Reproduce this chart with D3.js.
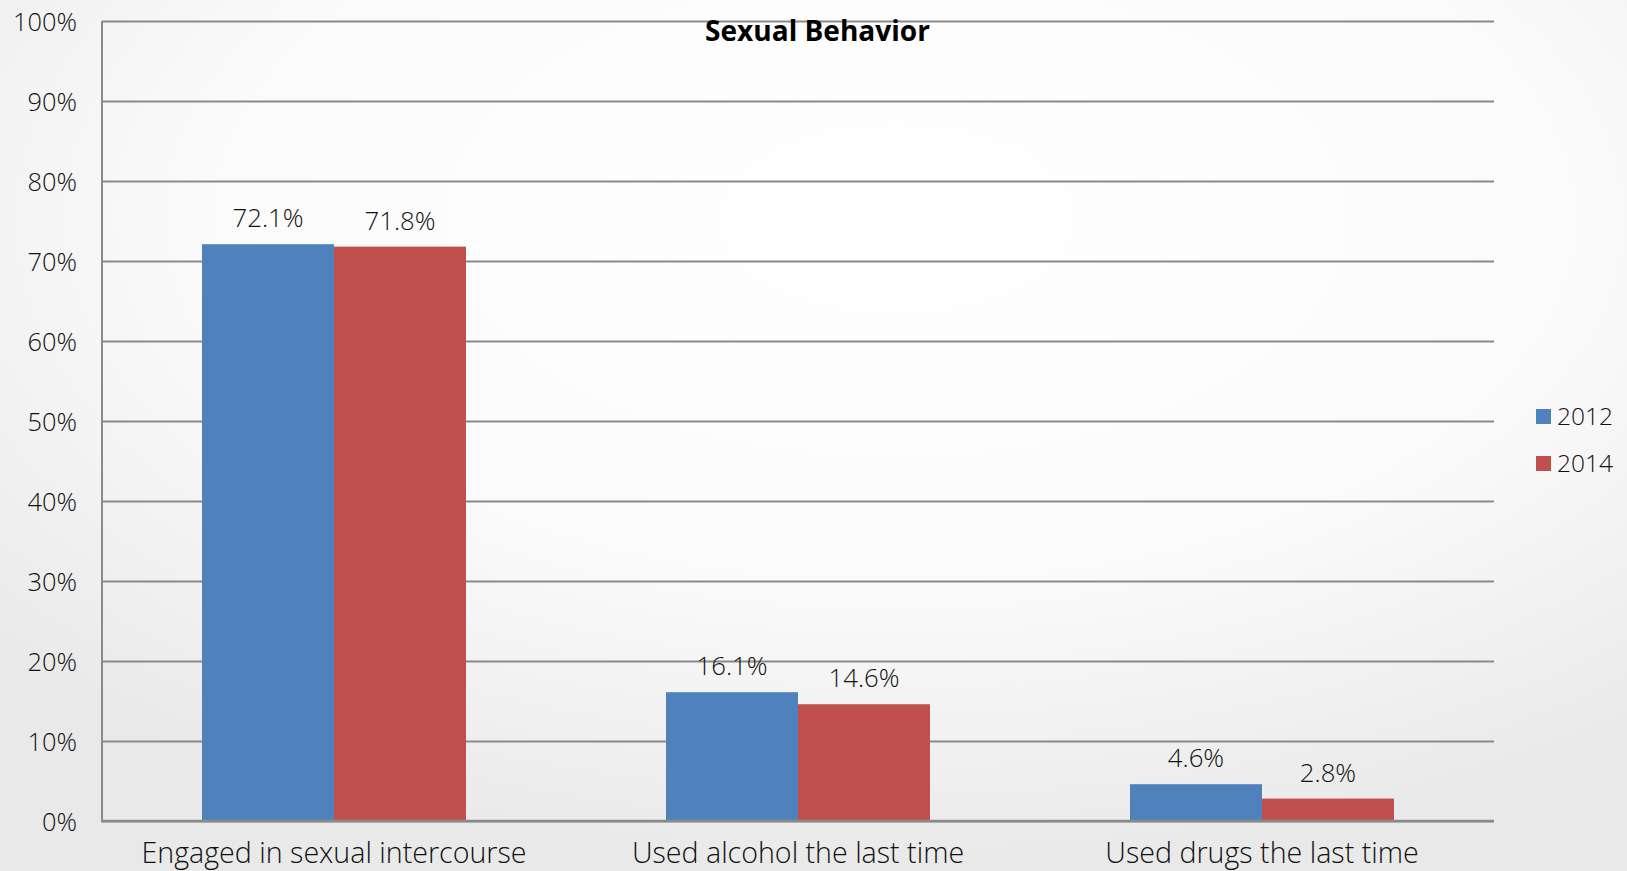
<!DOCTYPE html>
<html>
<head>
<meta charset="utf-8">
<script src="https://cdn.jsdelivr.net/npm/d3@7"></script>
<style>
html,body{margin:0;padding:0;overflow:hidden;}
svg{display:block;}
</style>
</head>
<body>
<svg id="chart" width="1627" height="871"></svg>
<script>
// ---- data ----
const title = "Sexual Behavior";
const categories = ["Engaged in sexual intercourse", "Used alcohol the last time", "Used drugs the last time"];
const seriesNames = ["2012", "2014"];
const values2012 = [72.1, 16.1, 4.6];
const values2014 = [71.8, 14.6, 2.8];
const yTicks = [0, 10, 20, 30, 40, 50, 60, 70, 80, 90, 100];
const colors = ["#4F81BD", "#C0504D"];

const W = 1627, H = 871;
const FONT = "'Open Sans', 'DejaVu Sans', sans-serif";
const TW = 300; // light text weight
const svg = d3.select("#chart");

// background radial gradient
const defs = svg.append("defs");
const rg = defs.append("radialGradient").attr("id", "bg")
  .attr("cx", "0.55").attr("cy", "0.25").attr("r", "0.75");
rg.append("stop").attr("offset", "0").attr("stop-color", "#ffffff");
rg.append("stop").attr("offset", "0.55").attr("stop-color", "#fbfbfb");
rg.append("stop").attr("offset", "1").attr("stop-color", "#e9e9e9");
svg.append("rect").attr("width", W).attr("height", H).attr("fill", "url(#bg)");

// font fitting helper
function fitSize(text, weight, target) {
  const t = svg.append("text").attr("font-family", FONT).attr("font-weight", weight)
    .attr("font-size", 100).text(text);
  const w = t.node().getComputedTextLength();
  t.remove();
  return 100 * target / w;
}
const tickSize = fitSize("100%", TW, 64);
const valSize = fitSize("72.1%", TW, 71);
const catSize = fitSize(categories[0], TW, 385);
const titleSize = fitSize(title, 700, 225);
const legSize = fitSize("2012", TW, 56);

const plot = {left: 102, right: 1494, top: 21, bottom: 821};

const x0 = d3.scaleBand().domain(categories).range([plot.left, plot.right]).paddingInner(0).paddingOuter(0);
const gapFrac = 200 / 464;
const x1 = d3.scaleBand().domain(seriesNames)
  .range([x0.bandwidth() * gapFrac / 2, x0.bandwidth() * (1 - gapFrac / 2)]);
const y = d3.scaleLinear().domain([0, 100]).range([plot.bottom, plot.top]);

// gridlines
const yAxis = d3.axisLeft(y).tickValues(yTicks).tickSize(-(plot.right - plot.left)).tickFormat(d => d + "%");
const gy = svg.append("g").attr("transform", `translate(${plot.left},0)`).call(yAxis);
gy.select(".domain").remove();
gy.selectAll(".tick line").attr("stroke", "#8a8a8a").attr("stroke-width", 2);
gy.selectAll(".tick text")
  .attr("x", -25).attr("dy", null).attr("y", 9.5)
  .attr("font-family", FONT).attr("font-weight", TW).attr("font-size", tickSize).attr("fill", "#111")
  .attr("text-anchor", "end");

// bars
const series = [values2012, values2014];
const groups = svg.append("g").selectAll("g").data(categories).join("g")
  .attr("transform", d => `translate(${x0(d)},0)`);
groups.selectAll("rect").data((d, i) => seriesNames.map((s, j) => ({s, v: series[j][i], j})))
  .join("rect")
  .attr("x", d => x1(d.s))
  .attr("width", x1.bandwidth())
  .attr("y", d => y(d.v))
  .attr("height", d => y(0) - y(d.v))
  .attr("fill", d => colors[d.j]);
groups.selectAll("text").data((d, i) => seriesNames.map((s, j) => ({s, v: series[j][i], j})))
  .join("text")
  .attr("x", d => x1(d.s) + x1.bandwidth() / 2)
  .attr("y", d => y(d.v) - 17)
  .attr("text-anchor", "middle")
  .attr("font-family", FONT).attr("font-weight", TW).attr("font-size", valSize).attr("fill", "#111")
  .text(d => d.v.toFixed(1) + "%");

// axes lines
svg.append("line").attr("x1", plot.left).attr("x2", plot.left).attr("y1", plot.top).attr("y2", plot.bottom)
  .attr("stroke", "#8a8a8a").attr("stroke-width", 2);
svg.append("line").attr("x1", plot.left - 1).attr("x2", plot.right).attr("y1", plot.bottom).attr("y2", plot.bottom)
  .attr("stroke", "#8a8a8a").attr("stroke-width", 2.5);

// category labels
const xAxis = d3.axisBottom(x0).tickSize(0);
const gx = svg.append("g").attr("transform", `translate(0,${plot.bottom})`).call(xAxis);
gx.select(".domain").remove();
gx.selectAll(".tick text").attr("y", 42).attr("dy", null)
  .attr("font-family", FONT).attr("font-weight", TW).attr("font-size", catSize).attr("fill", "#111");

// title
svg.append("text").attr("x", 817.5).attr("y", 41).attr("text-anchor", "middle")
  .attr("font-family", FONT).attr("font-weight", 700).attr("font-size", titleSize)
  .attr("fill", "#000").text(title);

// legend
const leg = svg.append("g").selectAll("g").data(seriesNames).join("g")
  .attr("transform", (d, i) => `translate(1536,${409 + i * 47})`);
leg.append("rect").attr("width", 15).attr("height", 15).attr("fill", (d, i) => colors[i]);
leg.append("text").attr("x", 21).attr("y", 16)
  .attr("font-family", FONT).attr("font-weight", TW).attr("font-size", legSize).attr("fill", "#111").text(d => d);
</script>
</body>
</html>
